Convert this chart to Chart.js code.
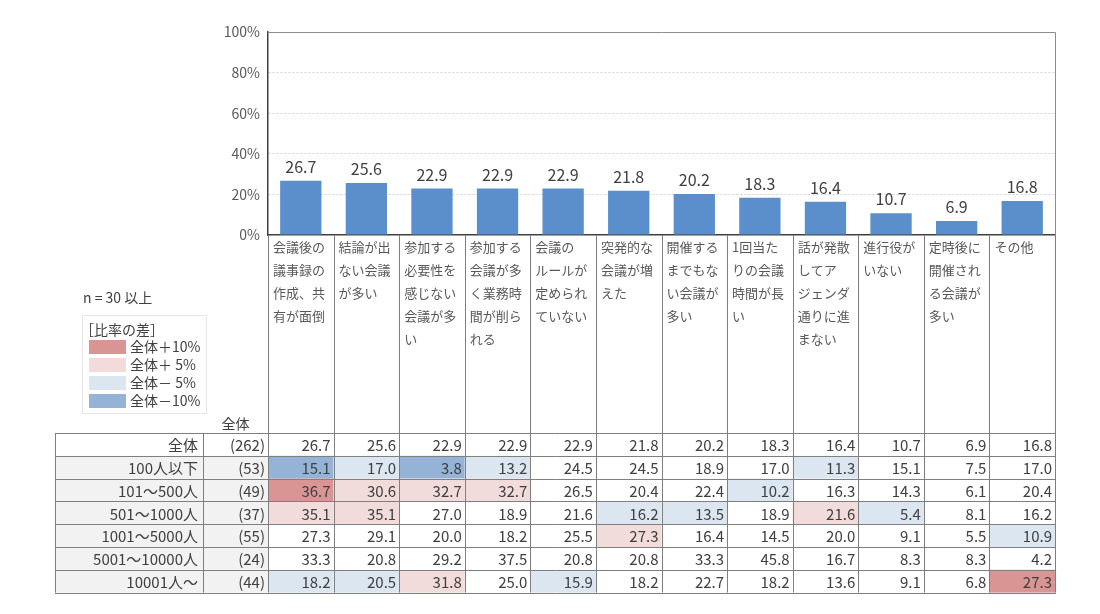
<!DOCTYPE html>
<html lang="ja">
<head>
<meta charset="utf-8">
<title>会議の課題（企業規模別）</title>
<script src="https://cdn.jsdelivr.net/npm/chart.js@4.4.1/dist/chart.umd.min.js"></script>
<style>
  html, body { margin: 0; padding: 0; background: #fff; }
  #wrap { width: 1100px; height: 614px; }
</style>
</head>
<body>
<div id="wrap"><canvas id="chart" width="1100" height="614"></canvas></div>
<script>
// 項目（改行位置は元の図に合わせる）
const categories = [
  ['会議後の', '議事録の', '作成、共', '有が面倒'],
  ['結論が出', 'ない会議', 'が多い'],
  ['参加する', '必要性を', '感じない', '会議が多', 'い'],
  ['参加する', '会議が多', 'く業務時', '間が削ら', 'れる'],
  ['会議の', 'ルールが', '定められ', 'ていない'],
  ['突発的な', '会議が増', 'えた'],
  ['開催する', 'までもな', 'い会議が', '多い'],
  ['1回当た', 'りの会議', '時間が長', 'い'],
  ['話が発散', 'してア', 'ジェンダ', '通りに進', 'まない'],
  ['進行役が', 'いない'],
  ['定時後に', '開催され', 'る会議が', '多い'],
  ['その他'],
];
const totalValues = [26.7, 25.6, 22.9, 22.9, 22.9, 21.8, 20.2, 18.3, 16.4, 10.7, 6.9, 16.8];
const yTickLabels = ['0%', '20%', '40%', '60%', '80%', '100%'];

// 表（企業規模別）
const groupLabels = ['全体', '100人以下', '101～500人', '501～1000人', '1001～5000人', '5001～10000人', '10001人～'];
const groupN = [262, 53, 49, 37, 55, 24, 44];
const row100 = [15.1, 17.0, 3.8, 13.2, 24.5, 24.5, 18.9, 17.0, 11.3, 15.1, 7.5, 17.0];
const row500 = [36.7, 30.6, 32.7, 32.7, 26.5, 20.4, 22.4, 10.2, 16.3, 14.3, 6.1, 20.4];
const row1000 = [35.1, 35.1, 27.0, 18.9, 21.6, 16.2, 13.5, 18.9, 21.6, 5.4, 8.1, 16.2];
const row5000 = [27.3, 29.1, 20.0, 18.2, 25.5, 27.3, 16.4, 14.5, 20.0, 9.1, 5.5, 10.9];
const row10000 = [33.3, 20.8, 29.2, 37.5, 20.8, 20.8, 33.3, 45.8, 16.7, 8.3, 8.3, 4.2];
const rowOver = [18.2, 20.5, 31.8, 25.0, 15.9, 18.2, 22.7, 18.2, 13.6, 9.1, 6.8, 27.3];
const tableRows = [totalValues, row100, row500, row1000, row5000, row10000, rowOver];

// 凡例
const legendTitle = '［比率の差］';
const legendLabels = ['全体＋10%', '全体＋ 5%', '全体－ 5%', '全体－10%'];
const legendColors = ['#d99594', '#f2dcdb', '#dce6f1', '#95b3d7'];
const nNote = 'n = 30 以上';

const FONT = '"Noto Sans CJK JP", "Noto Sans", sans-serif';
const TEXT = '#404040';
const LINE = '#7f7f7f';

// 表の位置
const TABLE_LEFT = 55;
const TABLE_NCOL = 203;
const TABLE_TOP = 433;
const ROW_H = 22.8;

function cellColor(row, col) {
  if (row === 0 || groupN[row] < 30) return null;
  const d = Math.round((tableRows[row][col] - totalValues[col]) * 10) / 10;
  if (d >= 10) return legendColors[0];
  if (d >= 5) return legendColors[1];
  if (d <= -10) return legendColors[3];
  if (d <= -5) return legendColors[2];
  return null;
}

const valueLabels = {
  id: 'valueLabels',
  afterDatasetsDraw(chart) {
    const ctx = chart.ctx;
    const meta = chart.getDatasetMeta(0);
    ctx.save();
    ctx.font = '16px ' + FONT;
    ctx.fillStyle = TEXT;
    ctx.textAlign = 'center';
    ctx.textBaseline = 'alphabetic';
    meta.data.forEach((bar, i) => {
      ctx.fillText(totalValues[i].toFixed(1), bar.x, bar.y - 8);
    });
    ctx.restore();
  }
};

const tablePlugin = {
  id: 'tablePlugin',
  afterDraw(chart) {
    const ctx = chart.ctx;
    const area = chart.chartArea;
    const xs = chart.scales.x;
    const colW = (area.right - area.left) / categories.length;
    const bottom = TABLE_TOP + ROW_H * tableRows.length;
    ctx.save();

    // グラフの枠（上・右）
    ctx.strokeStyle = '#8c8c8c';
    ctx.lineWidth = 1;
    ctx.beginPath();
    ctx.moveTo(area.left, area.top + 0.5);
    ctx.lineTo(area.right + 0.5, area.top + 0.5);
    ctx.lineTo(area.right + 0.5, area.bottom);
    ctx.stroke();

    // セルの塗り
    tableRows.forEach((row, r) => {
      const y = TABLE_TOP + r * ROW_H;
      if (r > 0) {
        ctx.fillStyle = '#f2f2f2';
        ctx.fillRect(TABLE_LEFT, y, area.left - TABLE_LEFT, ROW_H);
      }
      row.forEach((v, c) => {
        const col = cellColor(r, c);
        if (!col) return;
        const cx = xs.getPixelForValue(c);
        ctx.fillStyle = col;
        ctx.fillRect(cx - colW / 2, y, colW, ROW_H);
      });
    });

    // 罫線
    ctx.strokeStyle = LINE;
    ctx.lineWidth = 1;
    ctx.beginPath();
    for (let i = 0; i <= categories.length; i++) {
      const x = Math.round(xs.getPixelForValue(i) - colW / 2) + 0.5;
      ctx.moveTo(x, area.bottom);
      ctx.lineTo(x, bottom);
    }
    [TABLE_LEFT, TABLE_NCOL].forEach(x => {
      ctx.moveTo(x + 0.5, TABLE_TOP);
      ctx.lineTo(x + 0.5, bottom);
    });
    for (let r = 0; r <= tableRows.length; r++) {
      const y = Math.round(TABLE_TOP + r * ROW_H) + 0.5;
      ctx.moveTo(TABLE_LEFT, y);
      ctx.lineTo(area.right + 1, y);
    }
    ctx.stroke();

    // 項目名
    ctx.fillStyle = '#595959';
    ctx.font = '13px ' + FONT;
    ctx.textAlign = 'left';
    ctx.textBaseline = 'middle';
    categories.forEach((lines, i) => {
      const x0 = xs.getPixelForValue(i) - colW / 2 + 5;
      lines.forEach((t, k) => ctx.fillText(t, x0, area.bottom + 12 + k * 23));
    });

    // 表の文字
    ctx.fillStyle = TEXT;
    ctx.font = '15px ' + FONT;
    ctx.textAlign = 'right';
    tableRows.forEach((row, r) => {
      const y = TABLE_TOP + r * ROW_H + ROW_H / 2 + 1;
      ctx.fillText(groupLabels[r], TABLE_NCOL - 5, y);
      ctx.fillText('(' + groupN[r] + ')', area.left - 3, y);
      row.forEach((v, c) => {
        ctx.fillText(v.toFixed(1), xs.getPixelForValue(c) + colW / 2 - 3, y);
      });
    });
    ctx.textAlign = 'center';
    ctx.font = '14px ' + FONT;
    ctx.fillText('全体', (TABLE_NCOL + area.left) / 2, TABLE_TOP - 9);

    // 注記と凡例
    ctx.textAlign = 'left';
    ctx.fillText(nNote, 83, 298);
    ctx.strokeStyle = '#e6e6e6';
    ctx.strokeRect(82.5, 315.5, 124, 98);
    ctx.fillText(legendTitle, 80, 330);
    legendLabels.forEach((t, i) => {
      const y = 340 + i * 18;
      ctx.fillStyle = legendColors[i];
      ctx.fillRect(89, y, 37, 14);
      ctx.fillStyle = TEXT;
      ctx.fillText(t, 130, y + 7);
    });
    ctx.restore();
  }
};

new Chart(document.getElementById('chart'), {
  type: 'bar',
  data: {
    labels: categories.map(c => c.join('')),
    datasets: [{
      data: totalValues,
      backgroundColor: '#5b8fcc',
      barPercentage: 0.63,
      categoryPercentage: 1,
    }],
  },
  options: {
    responsive: false,
    animation: false,
    layout: { padding: { left: 0, top: 32, right: 45, bottom: 379 } },
    plugins: { legend: { display: false }, tooltip: { enabled: false } },
    scales: {
      x: {
        grid: { display: false },
        border: { display: true, color: '#404040', width: 1.5 },
        ticks: { display: false },
        afterFit(s) { s.height = 0; },
      },
      y: {
        min: 0,
        max: 100,
        ticks: {
          stepSize: 20,
          color: '#595959',
          font: { family: FONT, size: 14 },
          padding: 8,
          callback: (v) => yTickLabels[v / 20],
        },
        grid: {
          drawTicks: false,
          color: (c) => (c.tick.value > 0 && c.tick.value < 100) ? '#d0d0d0' : 'rgba(0,0,0,0)',
        },
        border: { display: true, color: '#404040', width: 1.5, dash: [2, 2] },
        afterFit(s) { s.width = 268; },
      },
    },
  },
  plugins: [valueLabels, tablePlugin],
});
</script>
</body>
</html>
